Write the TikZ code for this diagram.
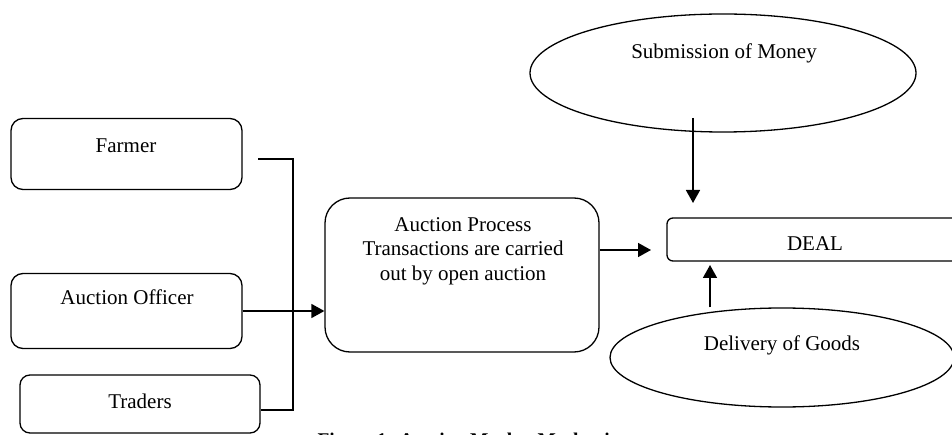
\documentclass[tikz,border=0pt]{standalone}
\usepackage{fontspec}
\setmainfont{Liberation Serif}
\usetikzlibrary{arrows.meta,shapes.geometric}
\begin{document}
\begin{tikzpicture}[x=1pt,y=-1pt,
  box/.style={draw,line width=1.3pt,rectangle,inner sep=0pt},
  oval/.style={draw,line width=1.3pt,ellipse,inner sep=0pt},
  txt/.style={font=\fontsize{21}{24}\selectfont,anchor=base,inner sep=0pt},
  conn/.style={line width=1.5pt},
  arr/.style={line width=1.6pt,-{Triangle[length=13pt,width=14pt]}}]
\useasboundingbox (0,0) rectangle (952,435);
\clip (0,0) rectangle (952,435);
\fill[white] (0,0) rectangle (952,435);
% boxes
\node[box,rounded corners=12pt,minimum width=231pt,minimum height=71pt] (farmer) at (126.5,154) {};
\node[box,rounded corners=12pt,minimum width=231pt,minimum height=75pt] (officer) at (126.5,311) {};
\node[box,rounded corners=10pt,minimum width=240pt,minimum height=58pt] (traders) at (140,404) {};
\node[box,rounded corners=25pt,minimum width=274pt,minimum height=154pt] (process) at (462,275) {};
\node[box,rounded corners=6pt,minimum width=300pt,minimum height=43pt] (deal) at (817,239.5) {};
\node[oval,minimum width=386pt,minimum height=118pt] (money) at (723,73) {};
\node[oval,minimum width=344pt,minimum height=99pt] (goods) at (782,357.5) {};
% texts
\node[txt] (tfarmer) at (126,153) {Farmer};
\node[txt] (tofficer) at (127,305) {Auction Officer};
\node[txt] (ttraders) at (140,408) {Traders};
\node[txt] (tp1) at (463,232) {Auction Process};
\node[txt] (tp2) at (463,256) {Transactions are carried};
\node[txt] (tp3) at (463,280) {out by open auction};
\node[txt] (tdeal) at (815,251) {DEAL};
\node[txt] (tmoney) at (724,59) {Submission of Money};
\node[txt] (tgoods) at (782,350) {Delivery of Goods};
\node[anchor=base,inner sep=0pt,font=\bfseries\fontsize{19.4}{22}\selectfont] (caption) at (475.5,446) {Figure 1: Auction Market Mechanism};
% connectors
\coordinate (fstart) at (258,159);
\coordinate (join) at (293,159);
\coordinate (tjoin) at (293,410);
\draw[conn] (fstart) -- (join) -- (tjoin) -- (traders.east |- tjoin);
\draw[arr] (officer.east) -- (process.west |- officer.east);
\coordinate (dealin) at (651,250);
\draw[arr] (process.east |- dealin) -- (dealin);
\coordinate (mstart) at (693,118);
\coordinate (mend) at (693,203);
\draw[arr] (mstart) -- (mend);
\coordinate (gend) at (710,265);
\draw[arr] (goods.north -| gend) -- (gend);
\end{tikzpicture}
\end{document}
